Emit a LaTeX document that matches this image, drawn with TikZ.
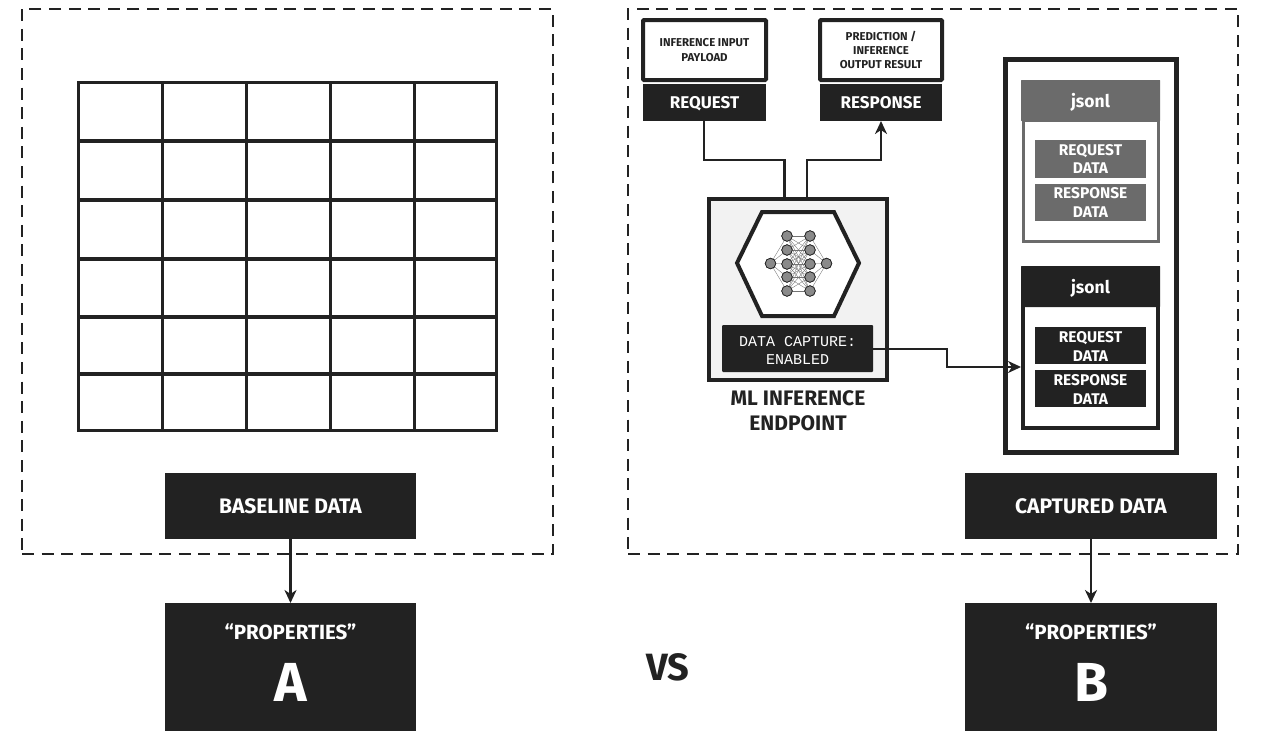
\documentclass[tikz,border=0pt]{standalone}
\usepackage{fontspec}
\setmainfont{Fira Sans}
\newfontfamily\capmono{Liberation Mono}
\usetikzlibrary{arrows.meta,calc}
\definecolor{ink}{HTML}{222222}
\definecolor{midgray}{HTML}{6B6B6B}
\definecolor{neuron}{HTML}{8A8A8A}
\newcommand{\fsz}[2]{\fontsize{#1}{#2}\selectfont}
\newcommand{\bx}[7][]{%
  \pgfmathsetmacro{\cx}{(#4+#6)/2}\pgfmathsetmacro{\cy}{(#5+#7)/2}%
  \pgfmathsetmacro{\bw}{#6-#4}\pgfmathsetmacro{\bh}{#7-#5}%
  \node[#2,minimum width=\bw pt,minimum height=\bh pt] (#3) at (\cx,\cy) {#1};}
\tikzset{
  x=1pt,y=-1pt,
  every node/.style={inner sep=0pt,outer sep=0pt,align=center},
  darkbox/.style={fill=ink,text=white},
  graybox/.style={fill=midgray,text=white},
  bigtitle/.style={font=\bfseries\fsz{21}{25},text height=16.4pt,text depth=2pt},
  smalltitle/.style={font=\bfseries\fsz{17}{20},text height=15pt,text depth=2.4pt},
  filetitle/.style={font=\bfseries\fsz{17.5}{20},text height=16.5pt,text depth=3.5pt,rounded corners=.5pt},
  twoline/.style={font=\bfseries\fsz{15.5}{18.5}},
  dashbox/.style={draw=ink,line width=2.8pt,dash pattern=on 12pt off 7.6pt},
  gridline/.style={draw=ink,line width=3.3pt,line cap=rect},
  conn/.style={draw=ink,line width=2.7pt},
  connarrow/.style={conn,-{Stealth[length=13pt,width=12pt,inset=4pt]}},
  textframe/.style={draw=ink,line width=4pt,rounded corners=1pt,fill=white,text=ink,font=\bfseries\fsz{11.4}{14.2}},
  neurode/.style={circle,draw=ink,line width=.7pt,fill=neuron,minimum size=10.5pt},
  synapse/.style={draw=black!55,line width=.35pt},
}
\begin{document}
\begin{tikzpicture}
\useasboundingbox (0,0) rectangle (1276,747);
\fill[white] (0,0) rectangle (1276,747);
% dashed frames
\bx{dashbox}{leftframe}{22}{9}{553}{554}
\bx{dashbox}{rightframe}{628}{9}{1238}{554}
% table
\foreach \gx in {78.5,162.5,246.5,330.5,414.5,496.5} \draw[gridline] (\gx,82.5) -- (\gx,430.5);
\foreach \gy in {82.5,141,200,259,317,374,430.5} \draw[gridline] (78.5,\gy) -- (496.5,\gy);
% left column
\bx[BASELINE DATA]{darkbox,bigtitle}{baseline}{165}{473}{416}{539}
\bx[]{darkbox}{propa}{165}{603}{416}{731}
\node[text=white,font=\bfseries\fsz{20.5}{22}] (propatext) at (290.5,632) {“PROPERTIES”};
\node[text=white,font=\bfseries\fsz{55}{58}] (aletter) at (290.5,682) {A};
% right column
\bx[CAPTURED DATA]{darkbox,bigtitle}{captured}{965}{473}{1217}{539}
\bx[]{darkbox}{propb}{965}{603}{1217}{731}
\node[text=white,font=\bfseries\fsz{20.5}{22}] (propbtext) at (1091,632) {“PROPERTIES”};
\node[text=white,font=\bfseries\fsz{55}{58}] (bletter) at (1091,682) {B};
\node[text=ink,font=\bfseries\fsz{38}{40}] (vs) at (668,667) {VS};
% request / response
\bx[INFERENCE INPUT\\PAYLOAD]{textframe}{payload}{643}{20}{766}{80}
\bx[PREDICTION /\\INFERENCE\\OUTPUT RESULT]{textframe}{result}{820}{20}{942}{80}
\bx[REQUEST]{darkbox,smalltitle}{request}{643}{84}{766}{121}
\bx[RESPONSE]{darkbox,smalltitle}{response}{820}{84}{942}{121}
% endpoint
\bx[]{draw=ink,line width=4pt,fill=black!5}{endpoint}{709}{199}{887}{380}
\coordinate (hl) at (737,263);
\coordinate (htl) at (762,212);
\coordinate (htr) at (834,212);
\coordinate (hr) at (859,263);
\coordinate (hbr) at (834,316);
\coordinate (hbl) at (762,316);
\draw[ink,line width=4pt,fill=white,line join=miter] (hl) -- (htl) -- (htr) -- (hr) -- (hbr) -- (hbl) -- cycle;
% neural net
\node[neurode] (in) at (770.5,263.5) {};
\node[neurode] (out) at (826.5,263.5) {};
\foreach \i/\ny in {1/236,2/250,3/264,4/277,5/291}{
  \node[neurode] (a\i) at (787,\ny) {};
  \node[neurode] (b\i) at (810,\ny) {};
}
\foreach \i in {1,...,5}{
  \draw[synapse] (in) -- (a\i);
  \draw[synapse] (b\i) -- (out);
  \foreach \j in {1,...,5} \draw[synapse] (a\i) -- (b\j);
}
\foreach \i in {1,...,5}{
  \node[neurode] at (a\i) {};
  \node[neurode] at (b\i) {};
}
\node[neurode] at (in) {};
\node[neurode] at (out) {};
% data capture
\bx[\rule{0pt}{13.5pt}DATA CAPTURE:\\ENABLED]{fill=ink,text=white,rounded corners=1pt,font=\capmono\fsz{15}{18.5}}{capture}{722}{325}{873}{372}
\node[text=ink,font=\bfseries\fsz{21}{25}] (eplabel) at (798,411) {ML INFERENCE\\ENDPOINT};
% connectors endpoint
\coordinate (epin) at (784.5,198);
\coordinate (epout) at (807,198);
\coordinate (reqout) at (704,121);
\coordinate (respin) at (881,121);
\draw[conn] (reqout) |- (784.5,160) -- (epin);
\draw[connarrow] (epout) -- (807,160) -| (respin);
% storage
\bx[]{draw=ink,line width=5pt,fill=white}{store}{1005}{59}{1176}{452}
\bx[]{draw=midgray,line width=3pt,fill=white}{grayfile}{1023}{120}{1158}{241}
\bx[jsonl]{graybox,filetitle}{grayhead}{1021}{80}{1160}{121}
\bx[REQUEST\\DATA]{graybox,twoline}{grayreq}{1035}{140}{1146}{178}
\bx[RESPONSE\\DATA]{graybox,twoline}{grayresp}{1035}{184}{1146}{221}
\bx[]{draw=ink,line width=4pt,fill=white}{darkfile}{1023}{305}{1158}{428}
\bx[jsonl]{darkbox,filetitle}{darkhead}{1021}{266}{1160}{307}
\bx[\rule{0pt}{12.7pt}REQUEST\\DATA]{darkbox,twoline}{darkreq}{1035}{327}{1146}{364}
\bx[\rule{0pt}{12.7pt}RESPONSE\\DATA]{darkbox,twoline}{darkresp}{1035}{370}{1146}{407}
\coordinate (capin) at (1021,367);
\coordinate (capout) at (873,349);
\draw[connarrow] (capout) -- (947,349) -- (947,367) -- (capin);
% bottom arrows
\draw[connarrow] (baseline.south) -- (propa.north);
\draw[connarrow] (captured.south) -- (propb.north);
\end{tikzpicture}
\end{document}
